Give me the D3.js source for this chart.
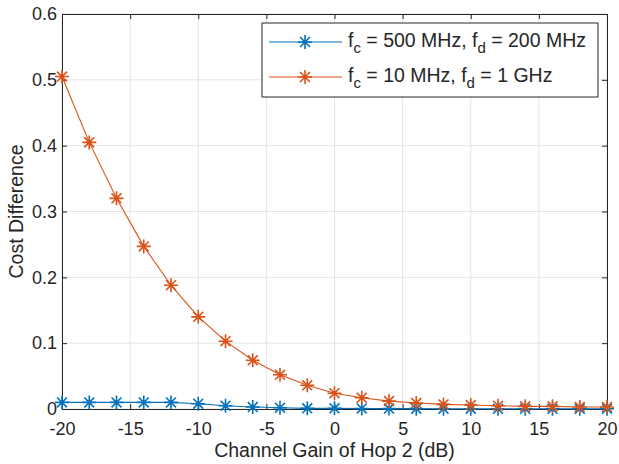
<!DOCTYPE html>
<html>
<head>
<meta charset="utf-8">
<script src="https://cdn.jsdelivr.net/npm/d3@7"></script>
<style>
  body { margin: 0; background: #fff; }
  text { font-family: "Liberation Sans", Arial, sans-serif; fill: #262626; }
</style>
</head>
<body>
<div id="chart"></div>
<script>
// data
var gainDb = [-20, -18, -16, -14, -12, -10, -8, -6, -4, -2, 0, 2, 4, 6, 8, 10, 12, 14, 16, 18, 20];
var cost500 = [0.010, 0.010, 0.010, 0.010, 0.010, 0.008, 0.005, 0.003, 0.002, 0.001, 0.001, 0.0008, 0.0006, 0.0005, 0.0004, 0.0004, 0.0003, 0.0003, 0.0003, 0.0003, 0.0003];
var cost10 = [0.505, 0.405, 0.320, 0.247, 0.188, 0.140, 0.103, 0.074, 0.052, 0.036, 0.024, 0.017, 0.012, 0.009, 0.007, 0.006, 0.005, 0.004, 0.004, 0.003, 0.003];
var xTicks = [-20, -15, -10, -5, 0, 5, 10, 15, 20];
var yTicks = [0, 0.1, 0.2, 0.3, 0.4, 0.5, 0.6];

var series = [
  { name: ["c", " = 500 MHz, f", "d", " = 200 MHz"], values: cost500, color: "#0072BD" },
  { name: ["c", " = 10 MHz, f", "d", " = 1 GHz"], values: cost10, color: "#D95319" }
];

// set the dimensions and margins of the graph
var margin = { top: 14, right: 12, bottom: 55, left: 62 },
    width = 619 - margin.left - margin.right,
    height = 464 - margin.top - margin.bottom;

var svg = d3.select("#chart")
    .append("svg")
    .attr("width", 619)
    .attr("height", 464)
    .append("g")
    .attr("transform", "translate(" + margin.left + "," + margin.top + ")");

var x = d3.scaleLinear().domain([-20, 20]).range([0, width]);
var y = d3.scaleLinear().domain([0, 0.6]).range([height, 0]);

// grid
svg.append("g").selectAll("line").data(xTicks).join("line")
    .attr("x1", d => x(d)).attr("x2", d => x(d))
    .attr("y1", 0).attr("y2", height)
    .attr("stroke", "#e3e3e3").attr("stroke-width", 1);
svg.append("g").selectAll("line").data(yTicks).join("line")
    .attr("x1", 0).attr("x2", width)
    .attr("y1", d => y(d)).attr("y2", d => y(d))
    .attr("stroke", "#e3e3e3").attr("stroke-width", 1);

// axes with inward ticks
var xAxis = svg.append("g")
    .attr("transform", "translate(0," + height + ")")
    .call(d3.axisBottom(x).tickValues(xTicks).tickSizeInner(-5).tickSizeOuter(0).tickPadding(13)
        .tickFormat(d => String(d)));
var yAxis = svg.append("g")
    .call(d3.axisLeft(y).tickValues(yTicks).tickSizeInner(-5).tickSizeOuter(0).tickPadding(5)
        .tickFormat(d => d === 0 ? "0" : d3.format(".1f")(d)));
svg.append("g")
    .call(d3.axisTop(x).tickValues(xTicks).tickSizeInner(-5).tickSizeOuter(0).tickFormat(""));
svg.append("g")
    .attr("transform", "translate(" + width + ",0)")
    .call(d3.axisRight(y).tickValues(yTicks).tickSizeInner(-5).tickSizeOuter(0).tickFormat(""));

svg.selectAll(".domain").attr("stroke", "#262626");
svg.selectAll(".tick line").attr("stroke", "#262626");
svg.selectAll(".tick text").style("font-size", "18px").attr("fill", "#262626")
    .style("font-family", "'Liberation Sans', Arial, sans-serif");

// asterisk marker path
function asterisk(r) {
  var d = r * Math.SQRT1_2;
  return "M" + (-r) + ",0L" + r + ",0" +
         "M0," + (-r) + "L0," + r +
         "M" + (-d) + "," + (-d) + "L" + d + "," + d +
         "M" + (-d) + "," + d + "L" + d + "," + (-d);
}

var line = d3.line()
    .x((d, i) => x(gainDb[i]))
    .y(d => y(d));

series.forEach(function (s) {
  svg.append("path")
      .datum(s.values)
      .attr("fill", "none")
      .attr("stroke", s.color)
      .attr("stroke-width", 1.1)
      .attr("d", line);
  svg.append("g").selectAll("path").data(s.values).join("path")
      .attr("transform", (d, i) => "translate(" + x(gainDb[i]) + "," + y(d) + ")")
      .attr("d", asterisk(7))
      .attr("stroke", s.color)
      .attr("stroke-width", 1.6)
      .attr("fill", "none");
});

// axis labels
svg.append("text")
    .attr("x", width / 2)
    .attr("y", height + 48)
    .attr("text-anchor", "middle")
    .style("font-size", "19.5px")
    .text("Channel Gain of Hop 2 (dB)");
svg.append("text")
    .attr("transform", "translate(-39," + (height / 2) + ") rotate(-90)")
    .attr("text-anchor", "middle")
    .style("font-size", "19.5px")
    .text("Cost Difference");

// legend
var lg = svg.append("g").attr("transform", "translate(" + (262 - margin.left) + "," + (23 - margin.top) + ")");
lg.append("rect")
    .attr("width", 336).attr("height", 74)
    .attr("fill", "#fff").attr("stroke", "#262626").attr("stroke-width", 1);
series.forEach(function (s, i) {
  var yy = 19 + i * 35;
  lg.append("line").attr("x1", 7).attr("x2", 80).attr("y1", yy).attr("y2", yy)
      .attr("stroke", s.color).attr("stroke-width", 1.1);
  lg.append("path").attr("transform", "translate(43," + yy + ")")
      .attr("d", asterisk(7)).attr("stroke", s.color).attr("stroke-width", 1.6);
  var t = lg.append("text").attr("x", 86).attr("y", yy + 5).style("font-size", "19.5px");
  t.append("tspan").text("f");
  t.append("tspan").attr("dy", 6).style("font-size", "15px").text(s.name[0]);
  t.append("tspan").attr("dy", -6).text(s.name[1]);
  t.append("tspan").attr("dy", 6).style("font-size", "15px").text(s.name[2]);
  t.append("tspan").attr("dy", -6).text(s.name[3]);
});
</script>
</body>
</html>
